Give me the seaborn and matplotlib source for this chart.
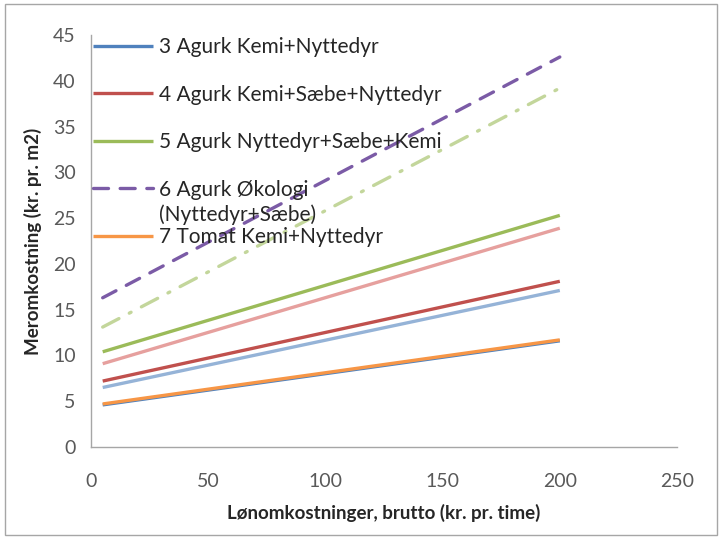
import matplotlib
matplotlib.use("Agg")
import matplotlib.pyplot as plt
import seaborn as sns
import pandas as pd
from matplotlib.patches import Rectangle

sns.set_style("white")
plt.rcParams['font.family'] = ['Lato', 'DejaVu Sans']

x_vals = [5, 200]
s3_agurk_kemi = [4.6, 11.6]
s4_agurk_kemi_saebe = [7.2, 18.1]
s5_agurk_nyttedyr = [10.4, 25.3]
s6_agurk_okologi = [16.3, 42.6]
s7_tomat_kemi = [4.7, 11.7]
s8_light_blue = [6.5, 17.1]
s9_pink = [9.1, 23.9]
s10_light_green = [13.1, 39.2]

labels = ["3 Agurk Kemi+Nyttedyr", "4 Agurk Kemi+Sæbe+Nyttedyr",
          "5 Agurk Nyttedyr+Sæbe+Kemi", "6 Agurk Økologi",
          "7 Tomat Kemi+Nyttedyr", "8", "9", "10"]
label6_line2 = "(Nyttedyr+Sæbe)"
x_ticks = [0, 50, 100, 150, 200, 250]
y_ticks = [0, 5, 10, 15, 20, 25, 30, 35, 40, 45]

series = [s3_agurk_kemi, s4_agurk_kemi_saebe, s5_agurk_nyttedyr, s6_agurk_okologi,
          s7_tomat_kemi, s8_light_blue, s9_pink, s10_light_green]
colors = ["#4F81BD", "#C0504D", "#9BBB59", "#7B5BA6", "#F79646", "#95B3D7", "#E6A09E", "#C3D69B"]
styles = ["-", "-", "-", (0, (4.5, 3.5)), "-", "-", "-", (0, (5.5, 3.5, 0.6, 3.5))]
order = [0, 5, 1, 6, 2, 7, 3, 4]  # drawing order, orange on top of blue

fig = plt.figure(figsize=(7.22, 5.39), dpi=100)
ax = fig.add_axes([0.126, 0.1707, 0.8117, 0.7643])

handles = {}
for i in order:
    df = pd.DataFrame({"x": x_vals, "y": series[i]})
    sns.lineplot(data=df, x="x", y="y", ax=ax, color=colors[i], linewidth=2.4,
                 legend=False)
    ln = ax.lines[-1]
    ln.set_linestyle(styles[i])
    ln.set_solid_capstyle("butt")
    ln.set_dash_capstyle("round")
    handles[i] = ln

ax.set_xlim(0, 250)
ax.set_ylim(0, 45)
ax.set_xticks(x_ticks)
ax.set_yticks(y_ticks)
ax.tick_params(axis="both", labelsize=14, labelcolor="#595959", color="#A6A6A6",
               length=5, width=1, direction="out")
ax.tick_params(axis="x", pad=14)
ax.tick_params(axis="y", pad=6)
for sp in ["top", "right"]:
    ax.spines[sp].set_visible(False)
for sp in ["left", "bottom"]:
    ax.spines[sp].set_color("#A6A6A6")
    ax.spines[sp].set_linewidth(1)

ax.set_xlabel("Lønomkostninger, brutto (kr. pr. time)", fontsize=13.5,
              fontweight="bold", color="#262626", labelpad=10)
ax.set_ylabel("Meromkostning (kr. pr. m2)", fontsize=13.5, fontweight="bold",
              color="#262626", labelpad=8)

leg = ax.legend([handles[i] for i in range(5)], [labels[i] for i in range(5)],
                loc="upper left", bbox_to_anchor=(0.0, 1.0), frameon=False,
                fontsize=15, handlelength=2.9, handletextpad=0.25,
                labelspacing=1.32, borderaxespad=0, borderpad=0.1)
for t in leg.get_texts():
    t.set_color("#262626")

fig.canvas.draw()
renderer = fig.canvas.get_renderer()
bb = leg.get_texts()[3].get_window_extent(renderer)
x_ax, y_ax = ax.transAxes.inverted().transform((bb.x0, bb.y0 - 5))
ax.text(x_ax, y_ax, label6_line2, transform=ax.transAxes, fontsize=15,
        color="#262626", ha="left", va="top")

fig.patches.append(Rectangle((0.007, 0.007), 0.986, 0.986, transform=fig.transFigure,
                             fill=False, edgecolor="#A6A6A6", linewidth=1))

fig.savefig("out.png", dpi=100)
